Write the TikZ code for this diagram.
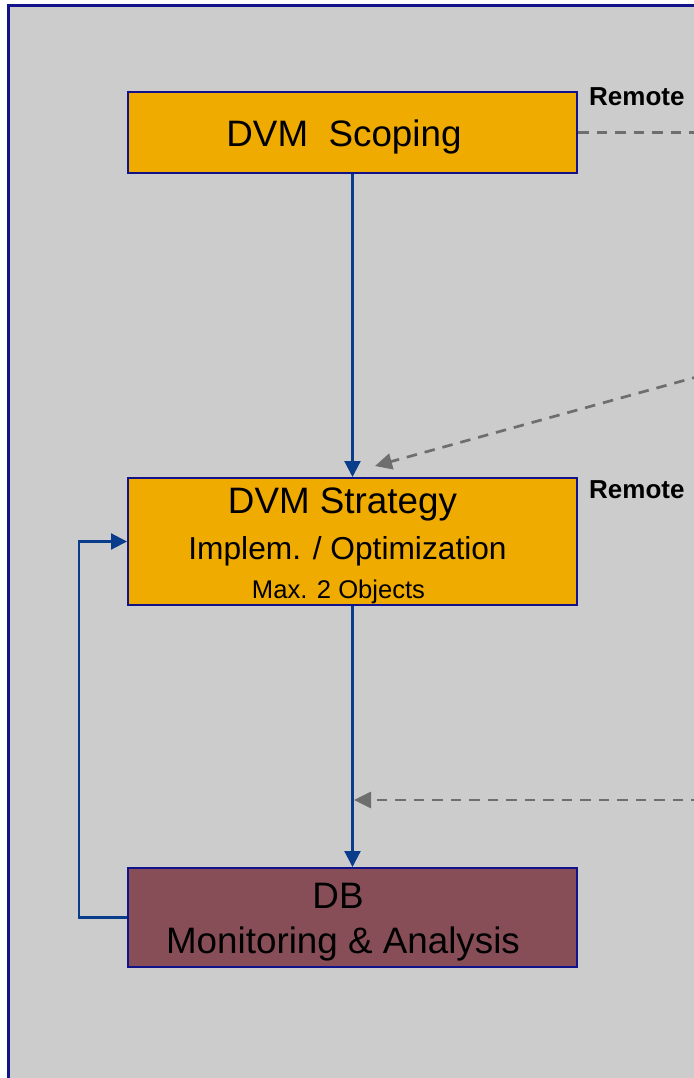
\documentclass[tikz,border=0pt]{standalone}
\usepackage{fontspec}
\setmainfont{Liberation Sans}
\usetikzlibrary{arrows.meta}
\definecolor{bgray}{HTML}{CCCCCC}
\definecolor{frameblue}{HTML}{12128A}
\definecolor{boxorange}{HTML}{F0AB00}
\definecolor{boxmaroon}{HTML}{874E58}
\definecolor{flowblue}{HTML}{0A3C8C}
\definecolor{dashgray}{HTML}{6E6E6E}
\tikzset{
  box/.style={draw=frameblue, line width=2pt, minimum width=449pt, inner sep=0pt},
  txt/.style={inner sep=0pt, anchor=base, text=black},
  bigtxt/.style={txt, font=\fontsize{36.8}{40}\selectfont},
  remotetxt/.style={inner sep=0pt, anchor=base west, font=\fontsize{26}{28}\selectfont\bfseries},
  flow/.style={draw=flowblue, line width=2.2pt, -{Triangle[length=16pt,width=16pt]}},
  remote/.style={draw=dashgray, line width=2.7pt, dash pattern=on 10.5pt off 8pt},
  remotearrow/.style={remote, -{Triangle[length=17pt,width=16pt]}},
}
\begin{document}
\begin{tikzpicture}[x=1pt,y=-1pt]
\useasboundingbox (0,0) rectangle (693,1078);
\fill[white] (0,0) rectangle (693,1078);
\filldraw[fill=bgray, draw=frameblue, line width=3pt] (8.5,5.5) rectangle (710,1095);

\node[box, fill=boxorange, minimum height=81pt] (b1) at (352.5,132.5) {};
\node[box, fill=boxorange, minimum height=127pt] (b2) at (352.5,541.5) {};
\node[box, fill=boxmaroon, minimum height=99pt] (b3) at (352.5,917.5) {};

\node[bigtxt] (t1) at (344,147) {DVM~\ Scoping};
\node[bigtxt] (t2) at (342.5,513) {DVM Strategy};
\node[txt, font=\fontsize{31.7}{36}\selectfont] (t3) at (347.5,559) {Implem. / Optimization};
\node[txt, font=\fontsize{25.6}{28}\selectfont] (t4) at (338.5,598) {Max. 2 Objects};
\node[bigtxt] (t5) at (338,908) {DB};
\node[bigtxt] (t6) at (343,953) {Monitoring \& Analysis};

\node[remotetxt] (r1) at (589,106) {Remote};
\node[remotetxt] (r2) at (589,498) {Remote};

\draw[flow] (b1.south) -- (b2.north);
\draw[flow] (b2.south) -- (b3.north);
\draw[flow] (b3.west) -- (79,917.5) -- (79,541.5) -- (b2.west);

\coordinate (e1) at (720,132.5);
\coordinate (s2) at (720,370.5);
\coordinate (tip2) at (375,466);
\coordinate (s3) at (720,800);
\coordinate (tip3) at (354,800);
\draw[remote] (b1.east) -- (e1);
\draw[remotearrow] (s2) -- (tip2);
\draw[remotearrow] (s3) -- (tip3);
\end{tikzpicture}
\end{document}
